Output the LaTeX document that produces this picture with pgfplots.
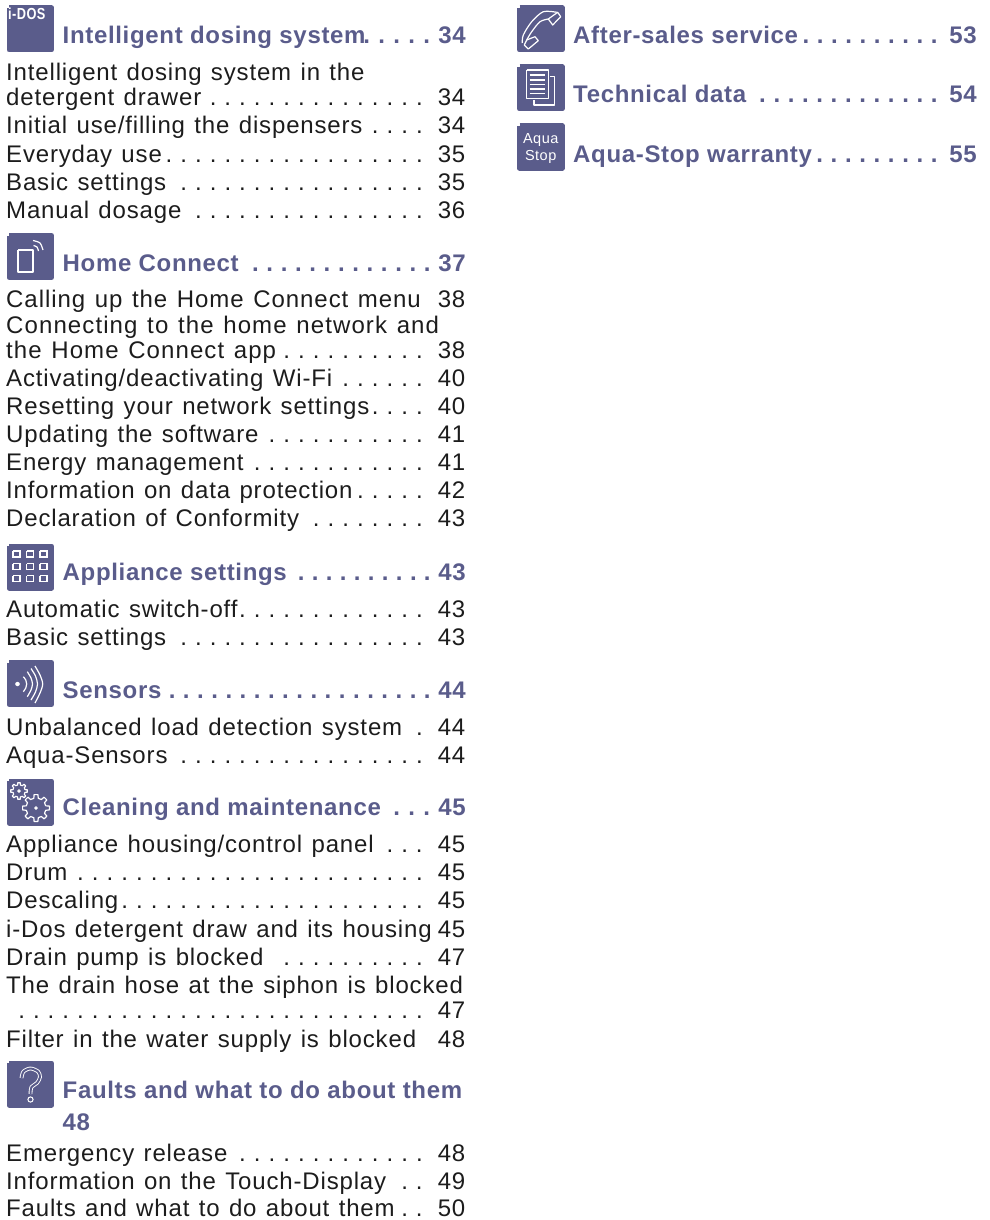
\documentclass[border=0pt]{standalone}
\usepackage{fontspec}
\setmainfont[LetterSpace=3.5,WordSpace=1.25]{Liberation Sans}
\newfontfamily\headfont[LetterSpace=2.8,WordSpace=1.0]{Liberation Sans}
\usepackage{pgfplots}
\pgfplotsset{compat=1.18}
\definecolor{tocblue}{HTML}{5A5C8B}
\definecolor{tocblack}{HTML}{1C1C1C}
\newcommand\tocfont{\fontsize{24}{24}\selectfont}
\newcommand\leaderdots[2]{\ifnum#1>0\foreach \n in {1,...,#1}{\makebox[#2pt][c]{.}}\fi}
% body entry: y, text, leader dots, page
\newcommand\entry[4]{%
  \node[anchor=base west,inner sep=0pt,text=tocblack,font=\tocfont] at (axis cs:6,#1) {#2};
  \node[anchor=base east,inner sep=0pt,text=tocblack,font=\tocfont] at (axis cs:426.9,#1) {\leaderdots{#3}{14.73}};
  \node[anchor=base east,inner sep=0pt,text=tocblack,font=\tocfont] at (axis cs:465.5,#1) {#4};
}
\newcommand\plainline[2]{%
  \node[anchor=base west,inner sep=0pt,text=tocblack,font=\tocfont] at (axis cs:6,#1) {#2};
}
% heading: x, dots end, page x, y, text, dots, gap, page
\newcommand\headline[8]{%
  \node[anchor=base west,inner sep=0pt,text=tocblue,font=\tocfont\headfont\bfseries] at (axis cs:#1,#4) {#5};
  \node[anchor=base east,inner sep=0pt,text=tocblue,font=\tocfont\headfont\bfseries] at (axis cs:#2,#4) {\leaderdots{#6}{#7}};
  \node[anchor=base east,inner sep=0pt,text=tocblue,font=\tocfont\headfont\bfseries] at (axis cs:#3,#4) {#8};
}
\begin{document}
\begin{tikzpicture}
\useasboundingbox (0,0) rectangle (989pt,1220pt);
\begin{axis}[
	at={(0,0)},anchor=south west,
	scale only axis,
	width=989pt,
	height=1220pt,
	xmin=0,xmax=989,
	ymin=0,ymax=1220,
	y dir=reverse,
	hide axis,
	clip=false,
]
% icon plates
\pgfplotsset{plate/.style={fill=tocblue,draw=tocblue,line width=5pt,line join=round}}
\addplot[plate] coordinates {(9,8) (51.5,8) (51.5,50) (9,50) (9,8)};
\addplot[plate] coordinates {(9,235.5) (51.5,235.5) (51.5,277.5) (9,277.5) (9,235.5)};
\addplot[plate] coordinates {(9,546) (51.5,546) (51.5,588) (9,588) (9,546)};
\addplot[plate] coordinates {(9,662.5) (51.5,662.5) (51.5,704.5) (9,704.5) (9,662.5)};
\addplot[plate] coordinates {(9,781) (51.5,781) (51.5,823) (9,823) (9,781)};
\addplot[plate] coordinates {(9,1063) (51.5,1063) (51.5,1105) (9,1105) (9,1063)};
\addplot[plate] coordinates {(519.5,8) (562,8) (562,50) (519.5,50) (519.5,8)};
\addplot[plate] coordinates {(519.5,67) (562,67) (562,109) (519.5,109) (519.5,67)};
\addplot[plate] coordinates {(519.5,126) (562,126) (562,168) (519.5,168) (519.5,126)};
% icon glyphs
\pgfplotsset{glyph/.style={draw=white,line width=1.2pt,line join=round}}
\node[anchor=base west,inner sep=0pt,text=white,xscale=.8,font=\fontsize{16}{16}\selectfont\bfseries] at (axis cs:8,20) {i-DOS};
% smartphone
\addplot[glyph] coordinates {(18,250) (33,250) (33,272) (18,272) (18,250)};
\addplot[glyph,smooth] coordinates {(33.5,245.5) (37,247) (38.5,251)};
\addplot[glyph,smooth] coordinates {(33,240.5) (40,243) (43,250)};
% grid
\pgfplotsset{cell/.style={draw=white,line width=1.5pt}}
\addplot[cell] coordinates {(13,551) (20,551) (20,557) (13,557) (13,551)};
\addplot[cell] coordinates {(26.5,551) (33.5,551) (33.5,557) (26.5,557) (26.5,551)};
\addplot[cell] coordinates {(40,551) (47,551) (47,557) (40,557) (40,551)};
\addplot[cell] coordinates {(13,563.5) (20,563.5) (20,569.5) (13,569.5) (13,563.5)};
\addplot[cell] coordinates {(26.5,563.5) (33.5,563.5) (33.5,569.5) (26.5,569.5) (26.5,563.5)};
\addplot[cell] coordinates {(40,563.5) (47,563.5) (47,569.5) (40,569.5) (40,563.5)};
\addplot[cell] coordinates {(13,575.5) (20,575.5) (20,581.5) (13,581.5) (13,575.5)};
\addplot[cell] coordinates {(26.5,575.5) (33.5,575.5) (33.5,581.5) (26.5,581.5) (26.5,575.5)};
\addplot[cell] coordinates {(40,575.5) (47,575.5) (47,581.5) (40,581.5) (40,575.5)};
% sensor waves
\addplot[only marks,mark=*,mark size=2pt,white] coordinates {(17.5,684)};
\addplot[glyph,smooth] coordinates {(23.3,676.7) (25.8,680) (26.7,684) (25.8,688) (23.3,691.7)};
\addplot[glyph,smooth] coordinates {(27.3,671.7) (31,678) (32.5,684) (31,690) (27.3,696.7)};
\addplot[glyph,smooth] coordinates {(31,668.5) (35.5,676) (37.5,684) (35.5,692) (31,700)};
\addplot[glyph,smooth] coordinates {(35,666) (40,675) (42.7,684) (40,693) (35,703)};
% gears
\addplot[glyph] coordinates {(25,789.6)(27.3,789.8)(27.3,792.2)(25,792.4)
 (24.3,794.3)(25.7,796)(24,797.7)(22.3,796.3)(20.4,797)(20.2,799.3)(17.8,799.3)(17.6,797)
 (15.7,796.3)(14,797.7)(12.3,796)(13.7,794.3)(13,792.4)(10.7,792.2)(10.7,789.8)(13,789.6)
 (13.7,787.7)(12.3,786)(14,784.3)(15.7,785.7)(17.6,785)(17.8,782.7)(20.2,782.7)(20.4,785)
 (22.3,785.7)(24,784.3)(25.7,786)(24.3,787.7)(25,789.6)};
\addplot[glyph] coordinates {(45.7,805.8)(49.4,806.1)(49.4,809.9)(45.7,810.3)
 (44.5,813.3)(46.8,816.1)(44.1,818.8)(41.3,816.5)(38.3,817.7)(37.9,821.4)(34.1,821.4)(33.8,817.7)
 (30.7,816.5)(27.9,818.8)(25.2,816.1)(27.5,813.3)(26.3,810.3)(22.6,809.9)(22.6,806.1)(26.3,805.8)
 (27.5,802.7)(25.2,799.9)(27.9,797.2)(30.7,799.5)(33.8,798.3)(34.1,794.6)(37.9,794.6)(38.3,798.3)
 (41.3,799.5)(44.1,797.2)(46.8,799.9)(44.5,802.7)(45.7,805.8)};
\addplot[only marks,mark=*,mark size=1.5pt,white] coordinates {(19,791) (36,808)};
% question mark
\addplot[draw=white,line width=.9pt,double=tocblue,double distance=2pt,smooth] coordinates {(21.5,1078) (23.5,1071.5) (30.5,1068.5) (38,1071.5) (40,1077) (37,1083) (31.5,1087) (30.5,1094)};
\addplot[only marks,mark=o,mark size=2.6pt,white,mark options={line width=1pt}] coordinates {(30.5,1099.5)};
% handset
\addplot[glyph,smooth] coordinates {(556.7,12.3) (543.3,11.7) (531.7,21.7) (523.3,35) (522.3,43)};
\addplot[glyph,smooth] coordinates {(548.3,19) (540,21.7) (531.7,31.7) (526.7,40)};
\addplot[glyph] coordinates {(548.3,19) (557.7,12.3) (560.7,16.7) (552.7,25) (548.3,19)};
\addplot[glyph] coordinates {(526.7,40) (535,36.7) (538.3,40.7) (528.3,49) (524.3,45) (526.7,40)};
% pages
\addplot[glyph] coordinates {(526.7,70) (548.3,70) (548.3,98.3) (526.7,98.3) (526.7,70)};
\addplot[glyph] coordinates {(550,76.7) (554.3,76.7) (554.3,105) (534,105) (534,100)};
\addplot[glyph] coordinates {(529.5,75) (545,75)};
\addplot[glyph] coordinates {(529.5,80) (545,80)};
\addplot[glyph] coordinates {(529.5,84.3) (545,84.3)};
\addplot[glyph] coordinates {(529.5,89) (545,89)};
\addplot[glyph] coordinates {(529.5,93.3) (545,93.3)};
\node[anchor=base,inner sep=0pt,text=white,font=\fontsize{14.5}{15}\selectfont] at (axis cs:540.7,143) {Aqua};
\node[anchor=base,inner sep=0pt,text=white,font=\fontsize{14.5}{15}\selectfont] at (axis cs:540.7,160) {Stop};
% left column
\headline{62.5}{434.5}{466}{44}{Intelligent dosing system}{5}{15}{34}
\plainline{81}{Intelligent dosing system in the}
\entry{106}{detergent drawer}{15}{34}
\entry{134}{Initial use/filling the dispensers}{4}{34}
\entry{162}{Everyday use}{18}{35}
\entry{190}{Basic settings}{17}{35}
\entry{218}{Manual dosage}{16}{36}
\headline{62.5}{434.5}{466}{271}{Home Connect}{13}{14.3}{37}
\entry{307}{\addfontfeatures{LetterSpace=4.0}Calling up the Home Connect menu}{0}{38}
\plainline{333}{\addfontfeatures{LetterSpace=4.6}Connecting to the home network and}
\entry{358}{\addfontfeatures{LetterSpace=4.5}the Home Connect app}{10}{38}
\entry{386}{Activating/deactivating Wi-Fi}{6}{40}
\entry{414}{Resetting your network settings}{4}{40}
\entry{442}{Updating the software}{11}{41}
\entry{470}{Energy management}{12}{41}
\entry{498}{Information on data protection}{5}{42}
\entry{526}{Declaration of Conformity}{8}{43}
\headline{62.5}{434.5}{466}{580}{Appliance settings}{10}{14}{43}
\entry{617}{Automatic switch-off}{13}{43}
\entry{645}{Basic settings}{17}{43}
\headline{62.5}{434.5}{466}{698}{Sensors}{19}{14.17}{44}
\entry{735}{Unbalanced load detection system}{1}{44}
\entry{763}{Aqua-Sensors}{17}{44}
\headline{62.5}{434.5}{466}{815}{Cleaning and maintenance}{3}{15}{45}
\entry{852}{Appliance housing/control panel}{3}{45}
\entry{880}{Drum}{24}{45}
\entry{908}{Descaling}{21}{45}
\entry{937}{i-Dos detergent draw and its housing}{0}{45}
\entry{965}{Drain pump is blocked}{10}{47}
\plainline{993}{The drain hose at the siphon is blocked}
\entry{1018}{}{28}{47}
\entry{1047}{Filter in the water supply is blocked}{0}{48}
\headline{62.5}{434.5}{466}{1098}{Faults and what to do about them}{0}{15}{}
\headline{62.5}{434.5}{466}{1130}{48}{0}{15}{}
\entry{1161}{Emergency release}{13}{48}
\entry{1189}{Information on the Touch-Display}{2}{49}
\entry{1216}{Faults and what to do about them}{2}{50}
% right column
\headline{573}{941.5}{977}{44}{After-sales service}{10}{14.25}{53}
\headline{573}{941.5}{977}{103}{Technical data}{13}{14.3}{54}
\headline{573}{941.5}{977}{162}{Aqua-Stop warranty}{9}{14.3}{55}
\end{axis}
\end{tikzpicture}
\end{document}
